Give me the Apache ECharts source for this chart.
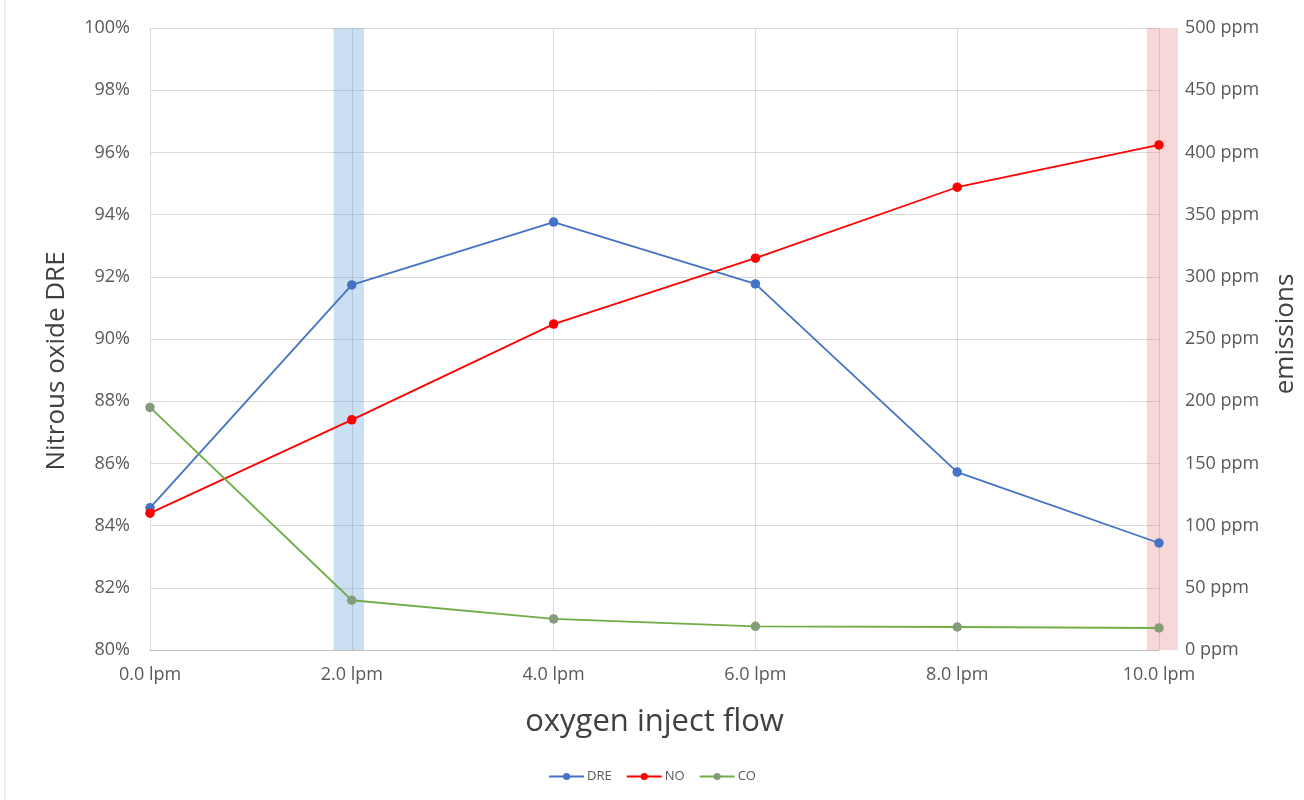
<!DOCTYPE html>
<html>
<head>
<meta charset="utf-8">
<script src="https://cdn.jsdelivr.net/npm/echarts@6/dist/echarts.min.js"></script>
<style>
html,body{margin:0;padding:0;background:#fff;}
#c{width:1304px;height:800px;}
</style>
</head>
<body>
<div id="c"></div>
<script>
const flow = [0, 2, 4, 6, 8, 10];
const dre = [84.57, 91.74, 93.76, 91.77, 85.72, 83.44];
const no = [110, 185, 262, 315, 372, 406];
const co = [195, 40, 25, 19, 18.5, 17.7];
const blueBand = [1.82, 2.12];
const redBand = [9.88, 10.19];

const font = '"Open Sans", sans-serif';
const W = 1304, gLeft = 150, gRight = 145, bandRight = 126;
const plotW = W - gLeft - gRight;
const bandW = W - gLeft - bandRight;
const bandMax = 10 * bandW / plotW;

const chart = echarts.init(document.getElementById('c'));
const pair = (xs, ys) => xs.map((x, i) => [x, ys[i]]);

chart.setOption({
  backgroundColor: '#fff',
  animation: false,
  textStyle: { fontFamily: font },
  grid: [
    { left: gLeft, right: gRight, top: 28, bottom: 150, containLabel: false, outerBoundsMode: 'none' },
    { left: gLeft, right: bandRight, top: 28, bottom: 150, containLabel: false, outerBoundsMode: 'none' }
  ],
  legend: {
    bottom: 12, left: 'center',
    itemWidth: 35, itemHeight: 9, itemGap: 14,
    textStyle: { fontSize: 13, color: '#595959', fontFamily: font, padding: [0, 0, 0, -2] },
    data: ['DRE', 'NO', 'CO']
  },
  graphic: [
    { type: 'line', shape: { x1: 5, y1: 0, x2: 5, y2: 800 }, style: { stroke: '#d9d9d9', lineWidth: 1 } }
  ],
  xAxis: [
    {
      type: 'value', min: 0, max: 10, interval: 2, gridIndex: 0,
      name: 'oxygen inject flow', nameLocation: 'middle', nameGap: 57,
      nameTextStyle: { fontSize: 31, color: '#404040', fontFamily: font },
      axisLine: { show: true, lineStyle: { color: '#bfbfbf' } },
      axisTick: { show: false },
      axisLabel: { fontSize: 18, color: '#595959', margin: 16, formatter: v => v.toFixed(1) + ' lpm' },
      splitLine: { show: true, lineStyle: { color: '#d9d9d9' } }
    },
    {
      type: 'value', min: 0, max: bandMax, gridIndex: 1, show: false,
      splitLine: { show: false }
    }
  ],
  yAxis: [
    {
      type: 'value', min: 80, max: 100, interval: 2, gridIndex: 0,
      name: 'Nitrous oxide DRE', nameLocation: 'middle', nameGap: 80,
      nameTextStyle: { fontSize: 26, color: '#404040', fontFamily: font, padding: [0, 44, 0, 0] },
      axisLine: { show: false }, axisTick: { show: false },
      axisLabel: { fontSize: 18, color: '#595959', margin: 20, formatter: v => v + '%' },
      splitLine: { show: true, lineStyle: { color: '#d9d9d9' } }
    },
    {
      type: 'value', min: 0, max: 500, interval: 50, gridIndex: 0,
      name: 'emissions', nameLocation: 'middle', nameGap: 114, nameRotate: 90,
      nameTextStyle: { fontSize: 26, color: '#404040', fontFamily: font, padding: [0, 0, 0, 10] },
      axisLine: { show: false }, axisTick: { show: false },
      axisLabel: { fontSize: 18, color: '#595959', margin: 26, formatter: v => v + ' ppm' },
      splitLine: { show: false }
    },
    {
      type: 'value', min: 0, max: 1, gridIndex: 1, show: false,
      splitLine: { show: false }
    }
  ],
  series: [
    {
      name: 'bands', type: 'line', data: [], xAxisIndex: 1, yAxisIndex: 2, silent: true,
      markArea: {
        silent: true,
        data: [
          [{ xAxis: blueBand[0], itemStyle: { color: 'rgba(91,155,213,0.32)' } }, { xAxis: blueBand[1] }],
          [{ xAxis: redBand[0], itemStyle: { color: 'rgba(230,130,130,0.32)' } }, { xAxis: redBand[1] }]
        ]
      }
    },
    {
      name: 'DRE', type: 'line', yAxisIndex: 0, data: pair(flow, dre),
      symbol: 'circle', symbolSize: 9.5,
      lineStyle: { color: '#4472C4', width: 1.8 }, itemStyle: { color: '#4472C4' }
    },
    {
      name: 'NO', type: 'line', yAxisIndex: 1, data: pair(flow, no),
      symbol: 'circle', symbolSize: 9.5,
      lineStyle: { color: '#FF0000', width: 1.8 }, itemStyle: { color: '#FF0000' }
    },
    {
      name: 'CO', type: 'line', yAxisIndex: 1, data: pair(flow, co),
      symbol: 'circle', symbolSize: 9.5,
      lineStyle: { color: '#70AD47', width: 1.8 }, itemStyle: { color: '#849c7a' }
    }
  ]
});
</script>
</body>
</html>
